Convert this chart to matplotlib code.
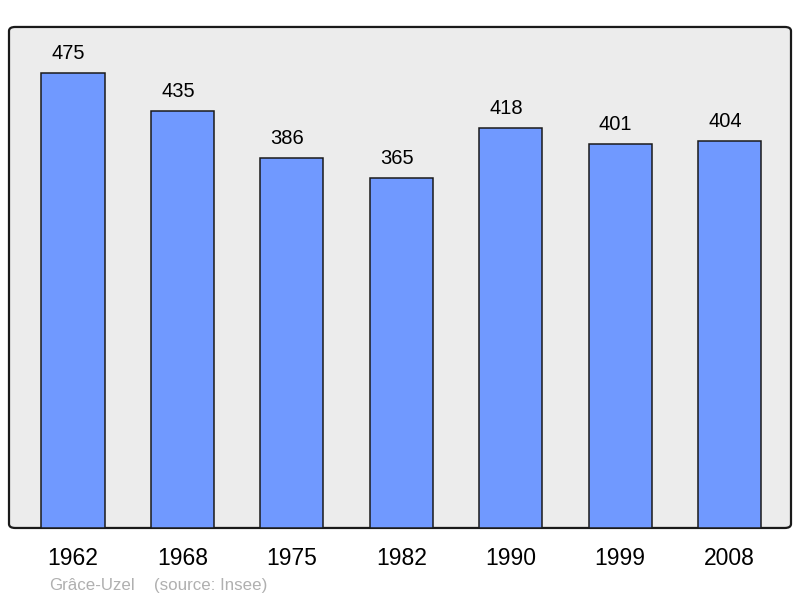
import matplotlib.pyplot as plt
from matplotlib.patches import FancyBboxPatch

plt.rcParams['font.family'] = ['Liberation Sans', 'DejaVu Sans']

years = ["1962", "1968", "1975", "1982", "1990", "1999", "2008"]
population = [475, 435, 386, 365, 418, 401, 404]

fig = plt.figure(figsize=(8, 5.98), dpi=100)
ax = fig.add_axes([0.01125, 0.1171, 0.9775, 0.8378])

# rounded frame behind the bars
frame = FancyBboxPatch((0, 0), 1, 1,
                       boxstyle="round,pad=0,rounding_size=0.008",
                       transform=ax.transAxes, facecolor="#ececec",
                       edgecolor="#1a1a1a", linewidth=1.6, zorder=0,
                       clip_on=False)
ax.add_patch(frame)
ax.set_facecolor("none")
for s in ax.spines.values():
    s.set_visible(False)

x = range(len(years))
ax.bar(x, population, width=0.576, color="#7099ff", edgecolor="#1a1a1a",
       linewidth=1.1, zorder=2)
for xi, v in zip(x, population):
    ax.annotate(str(v), (xi, v), xytext=(-3.2, 10), textcoords="offset points",
                ha="center", va="baseline", fontsize=14.5)

ax.set_xlim(-0.585, 6.562)
ax.set_ylim(0, 523)
ax.set_yticks([])
ax.set_xticks(list(x))
ax.set_xticklabels(years, fontsize=16.5)
ax.tick_params(axis="x", length=0, pad=14)

fig.text(49 / 800, 1 - 590 / 598, "Grâce-Uzel", color="#b0b0b0",
         fontsize=12.2, va="baseline")
fig.text(154 / 800, 1 - 590 / 598, "(source: Insee)", color="#b0b0b0",
         fontsize=12.2, va="baseline")

fig.savefig("out.png", dpi=100)
